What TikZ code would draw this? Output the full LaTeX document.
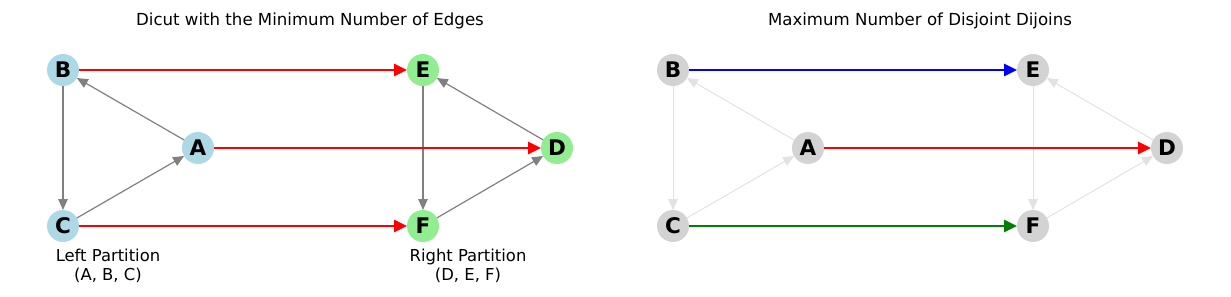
\documentclass[tikz,border=0pt]{standalone}
\usepackage{fontspec}
\setmainfont{DejaVu Sans}
\usetikzlibrary{arrows.meta}
\definecolor{lblue}{HTML}{ADD8E6}
\definecolor{lgreen}{HTML}{90EE90}
\definecolor{lgray}{HTML}{D3D3D3}
\definecolor{fadegray}{HTML}{E2E2E2}
\definecolor{mgray}{HTML}{808080}
\definecolor{dgreen}{HTML}{008000}
\tikzset{
  vtx/.style={circle, minimum size=32pt, inner sep=0pt, outer sep=0pt, font=\fontsize{21.5}{24}\selectfont\bfseries},
  lnode/.style={vtx, fill=lblue},
  rnode/.style={vtx, fill=lgreen},
  gnode/.style={vtx, fill=lgray},
  cutedge/.style={line width=2.6pt, -{Triangle[length=13pt,width=12pt]}},
  plainedge/.style={mgray, line width=1.2pt, -{Triangle[length=11pt,width=9.5pt]}},
  fadeedge/.style={fadegray, line width=1pt, -{Triangle[length=11pt,width=9.5pt]}},
  ttl/.style={font=\fontsize{16.6}{20}\selectfont},
  lbl/.style={font=\fontsize{16.4}{19}\selectfont, align=center},
}
\begin{document}
\begin{tikzpicture}[x=1pt,y=-1pt]
\useasboundingbox (0,0) rectangle (1231,297);
% left panel
\node[ttl] (t1) at (310,21) {Dicut with the Minimum Number of Edges};
\node[lnode] (B1) at (63,70) {B};
\node[lnode] (A1) at (198,148) {A};
\node[lnode] (C1) at (63,226) {C};
\node[rnode] (E1) at (423,70) {E};
\node[rnode] (D1) at (557,148) {D};
\node[rnode] (F1) at (423,226) {F};
\draw[plainedge] (A1) -- (B1);
\draw[plainedge] (B1) -- (C1);
\draw[plainedge] (C1) -- (A1);
\draw[plainedge] (D1) -- (E1);
\draw[plainedge] (E1) -- (F1);
\draw[plainedge] (F1) -- (D1);
\draw[cutedge, red] (B1) -- (E1);
\draw[cutedge, red] (A1) -- (D1);
\draw[cutedge, red] (C1) -- (F1);
\node[lbl] (lp) at (108,266) {Left Partition\\(A, B, C)};
\node[lbl] (rp) at (468,266) {Right Partition\\(D, E, F)};
% right panel
\node[ttl] (t2) at (920,21) {Maximum Number of Disjoint Dijoins};
\node[gnode] (B2) at (673,70) {B};
\node[gnode] (A2) at (808,148) {A};
\node[gnode] (C2) at (673,226) {C};
\node[gnode] (E2) at (1033,70) {E};
\node[gnode] (D2) at (1167,148) {D};
\node[gnode] (F2) at (1033,226) {F};
\draw[fadeedge] (A2) -- (B2);
\draw[fadeedge] (B2) -- (C2);
\draw[fadeedge] (C2) -- (A2);
\draw[fadeedge] (D2) -- (E2);
\draw[fadeedge] (E2) -- (F2);
\draw[fadeedge] (F2) -- (D2);
\draw[cutedge, blue] (B2) -- (E2);
\draw[cutedge, red] (A2) -- (D2);
\draw[cutedge, dgreen] (C2) -- (F2);
\end{tikzpicture}
\end{document}
